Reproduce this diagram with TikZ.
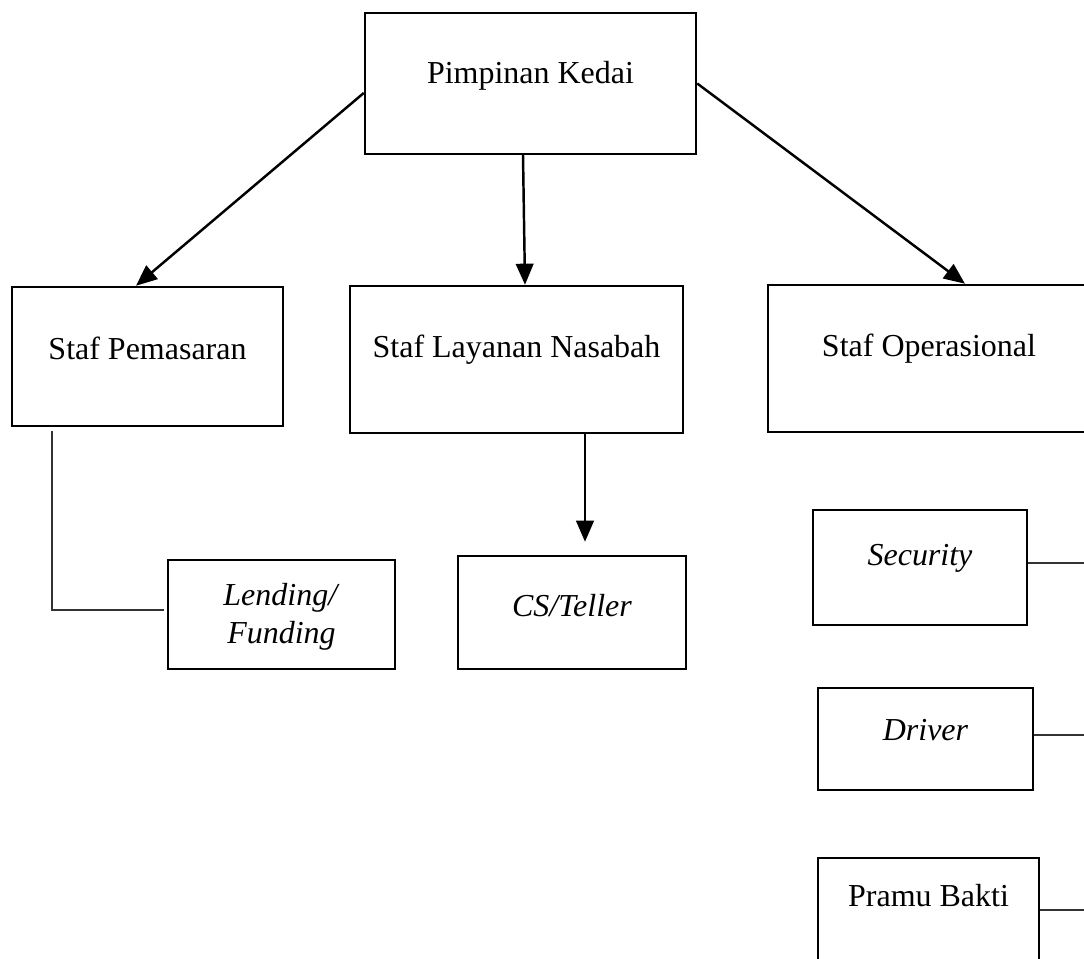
\documentclass[tikz,border=0pt]{standalone}
\usepackage{fontspec}
\setmainfont{Liberation Serif}
\usetikzlibrary{arrows.meta}

\begin{document}
\begin{tikzpicture}[
    box/.style={draw, line width=1.4pt, inner sep=0pt},
    txt/.style={font=\fontsize{18.2}{21.9}\selectfont, inner sep=0pt, align=center},
    arr/.style={line width=1.4pt, -{Triangle[length=12pt,width=10pt]}},
    link/.style={line width=0.7pt, draw=black!80},
    ]
    \clip (0,0) rectangle (21.68,19.16);
    \coordinate (rim) at (21.68,0);
    % top
    \node[box, minimum width=6.62cm, minimum height=2.82cm,
      label={[txt,yshift=0.16cm]center:Pimpinan Kedai}] (pimpinan) at (10.61,17.49) {};
    % staf
    \node[box, minimum width=5.42cm, minimum height=2.78cm,
      label={[txt,yshift=0.17cm]center:Staf Pemasaran}] (pemasaran) at (2.95,12.03) {};
    \node[box, minimum width=6.66cm, minimum height=2.94cm,
      label={[txt,yshift=0.19cm]center:Staf Layanan Nasabah}] (layanan) at (10.33,11.97) {};
    \node[box, minimum width=6.44cm, minimum height=2.94cm,
      label={[txt,yshift=0.2cm]center:Staf Operasional}] (operasional) at (18.58,11.99) {};
    % bawahan
    \node[box, minimum width=4.54cm, minimum height=2.18cm,
      label={[txt,yshift=-0.05cm]center:\textit{Lending/}\\\textit{Funding}}] (lending) at (5.63,6.87) {};
    \node[box, minimum width=4.56cm, minimum height=2.26cm,
      label={[txt,yshift=0.14cm]center:\textit{CS/Teller}}] (csteller) at (11.44,6.91) {};
    \node[box, minimum width=4.28cm, minimum height=2.30cm,
      label={[txt,yshift=0.19cm]center:\textit{Security}}] (security) at (18.40,7.81) {};
    \node[box, minimum width=4.30cm, minimum height=2.04cm,
      label={[txt,yshift=0.18cm]center:\textit{Driver}}] (driver) at (18.51,4.38) {};
    \node[box, minimum width=4.42cm, minimum height=2.08cm,
      label={[txt,yshift=0.28cm]center:Pramu Bakti}] (pramu) at (18.57,0.96) {};

    \draw[arr] ([yshift=-0.19cm]pimpinan.west) -- ([xshift=-0.23cm]pemasaran.north);
    \draw[arr] ([xshift=-0.15cm]pimpinan.south) -- ([xshift=0.17cm]layanan.north);
    \draw[arr] (pimpinan.east) -- ([xshift=0.72cm]operasional.north);
    \draw[arr, shorten >=0.26cm] ([xshift=1.37cm]layanan.south) -- ([xshift=1.37cm]layanan.south |- csteller.north);

    \draw[link] ([xshift=-1.91cm,yshift=-0.08cm]pemasaran.south) |- ([xshift=-0.06cm,yshift=0.09cm]lending.west);
    \draw[link] ([yshift=0.09cm]security.east) -- ([yshift=0.09cm]security.east -| rim);
    \draw[link] ([yshift=0.08cm]driver.east) -- ([yshift=0.08cm]driver.east -| rim);
    \draw[link] (pramu.east) -- (pramu.east -| rim);
\end{tikzpicture}
\end{document}
